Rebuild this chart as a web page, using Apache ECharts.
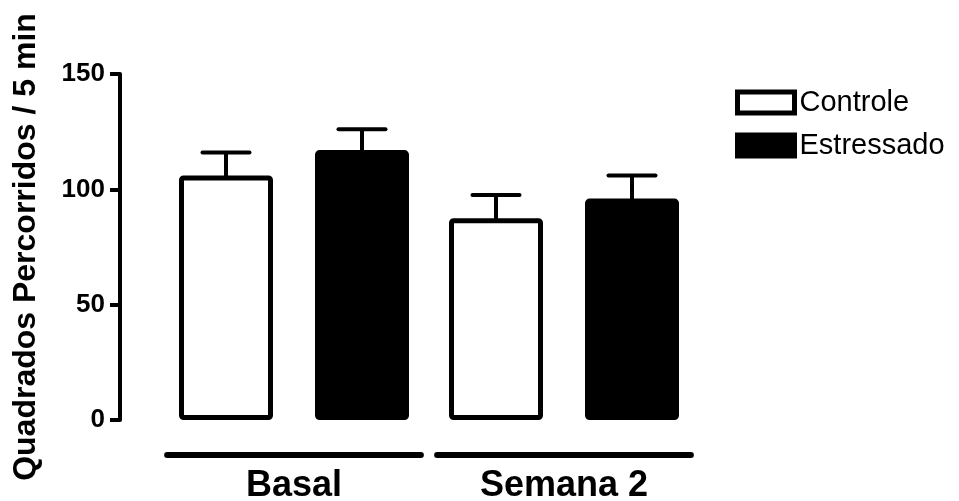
<!DOCTYPE html>
<html>
<head>
<meta charset="utf-8">
<script src="https://cdn.jsdelivr.net/npm/echarts@6/dist/echarts.min.js"></script>
<style>html,body{margin:0;padding:0;background:#fff}#c{width:959px;height:501px}</style>
</head>
<body>
<div id="c"></div>
<script>
var categories = ['Basal', 'Semana 2'];
var seriesNames = ['Controle', 'Estressado'];
var controle = [106, 87.5];
var controleErr = [10, 10];
var estressado = [117, 96];
var estressadoErr = [9, 10];
var yTicks = [0, 50, 100, 150];

var FONT = '"Liberation Sans", Arial, sans-serif';
var BAR_W = 94;
var BAR_OFF = 68;

var chart = echarts.init(document.getElementById('c'), null, {renderer: 'canvas'});

function errRender(sign) {
  return function (params, api) {
    var base = api.coord([api.value(0), api.value(1)]);
    var top = api.coord([api.value(0), api.value(1) + api.value(2)]);
    var x = base[0] + sign * BAR_OFF;
    var half = 23.5;
    return {
      type: 'group',
      children: [
        {type: 'line', shape: {x1: x, y1: base[1] + 3, x2: x, y2: top[1]},
         style: {stroke: '#000', lineWidth: 4}},
        {type: 'line', shape: {x1: x - half, y1: top[1], x2: x + half, y2: top[1]},
         style: {stroke: '#000', lineWidth: 4, lineCap: 'round'}}
      ]
    };
  };
}

var option = {
  animation: false,
  backgroundColor: '#fff',
  textStyle: {fontFamily: FONT},
  grid: {left: 159, right: 260, top: 74, bottom: 81, containLabel: false, outerBoundsMode: 'none'},
  legend: {
    orient: 'vertical',
    left: 730,
    top: 83,
    itemWidth: 57,
    itemHeight: 21,
    itemGap: 14,
    textStyle: {fontFamily: FONT, fontSize: 29, lineHeight: 29, color: '#000'},
    data: [
      {name: 'Controle', icon: 'rect', itemStyle: {color: '#fff', borderColor: '#000', borderWidth: 5}},
      {name: 'Estressado', icon: 'rect', itemStyle: {color: '#000', borderColor: '#000', borderWidth: 5}}
    ]
  },
  xAxis: {
    type: 'category',
    data: categories,
    axisLine: {show: false},
    axisTick: {show: false},
    axisLabel: {fontFamily: FONT, fontSize: 36, fontWeight: 'bold', color: '#000', margin: 48, lineHeight: 36}
  },
  yAxis: {
    type: 'value',
    min: 0,
    max: 150,
    interval: 50,
    offset: 39,
    name: 'Quadrados Percorridos / 5 min',
    nameLocation: 'middle',
    nameRotate: 90,
    nameGap: 78,
    nameTextStyle: {fontFamily: FONT, fontSize: 32, fontWeight: 'bold', color: '#000'},
    axisLine: {show: true, lineStyle: {color: '#000', width: 4}},
    axisTick: {show: true, length: 10, lineStyle: {color: '#000', width: 4}},
    axisLabel: {fontFamily: FONT, fontSize: 26, fontWeight: 'bold', color: '#000', margin: 15,
      formatter: function (v) { return yTicks.indexOf(v) >= 0 ? String(v) : ''; }},
    splitLine: {show: false}
  },
  series: [
    {
      name: seriesNames[0], type: 'bar', data: controle,
      barWidth: BAR_W, barGap: (2 * BAR_OFF - BAR_W) / BAR_W * 100 + '%',
      itemStyle: {color: '#fff', borderColor: '#000', borderWidth: 5, borderRadius: 2}
    },
    {
      name: seriesNames[1], type: 'bar', data: estressado,
      barWidth: BAR_W,
      itemStyle: {color: '#000', borderColor: '#000', borderWidth: 5, borderRadius: 2}
    },
    {
      type: 'custom', renderItem: errRender(-1),
      data: controle.map(function (v, i) { return [i, v, controleErr[i]]; }),
      z: 3
    },
    {
      type: 'custom', renderItem: errRender(1),
      data: estressado.map(function (v, i) { return [i, v, estressadoErr[i]]; }),
      z: 1
    },
    {
      type: 'custom',
      renderItem: function (params, api) {
        var p = api.coord([api.value(0), 0]);
        var w = api.size([1, 0])[0];
        return {type: 'line', shape: {x1: p[0] - w * 0.47, y1: p[1] + 35, x2: p[0] + w * 0.47, y2: p[1] + 35},
          style: {stroke: '#000', lineWidth: 6, lineCap: 'round'}};
      },
      data: categories.map(function (c, i) { return [i]; })
    }
  ]
};
chart.setOption(option);
</script>
</body>
</html>
